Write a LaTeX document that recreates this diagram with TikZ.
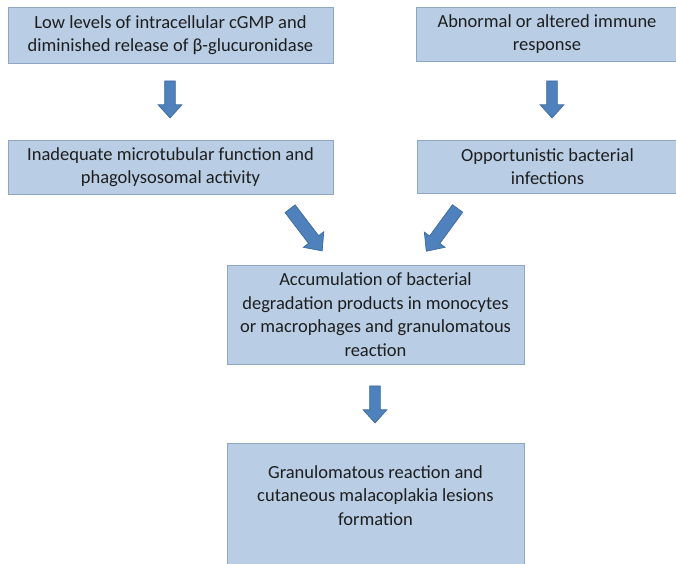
\documentclass[tikz,border=0pt]{standalone}
\usepackage{fontspec}
\setmainfont{Carlito}
\usetikzlibrary{shapes.arrows}

\definecolor{boxfill}{HTML}{B9CDE5}
\definecolor{boxline}{HTML}{8FA7C6}
\definecolor{arrfill}{HTML}{4F81BD}
\definecolor{arrline}{HTML}{3C6A9E}
\definecolor{txt}{HTML}{1E1E1E}

\tikzset{
	box/.style = {draw=boxline, fill=boxfill, line width=0.9pt, inner sep=0pt,
		align=center, text=txt, font=\fontsize{18.5}{23.5}\selectfont},
	blockarrow/.style = {single arrow, draw=arrline, fill=arrfill, line width=0.7pt,
		inner xsep=0pt, inner ysep=5pt, minimum height=37pt,
		single arrow head extend=6.5pt, single arrow tip angle=84},
}

\begin{document}
\begin{tikzpicture}[x=1pt, y=-1pt]

		\useasboundingbox (0,0) rectangle (676,563);

		% boxes
		\node[box, minimum width=325pt, minimum height=56pt] (low) at (170.5,35)
			{Low levels of intracellular cGMP and\\diminished release of β-glucuronidase};
		\node[box, minimum width=262pt, minimum height=54pt] (abn) at (547,34)
			{Abnormal or altered immune\\response};
		\node[box, minimum width=325pt, minimum height=54pt] (inad) at (170.5,167)
			{Inadequate microtubular function and\\phagolysosomal activity};
		\node[box, minimum width=261pt, minimum height=53pt] (opp) at (547.5,166.5)
			{Opportunistic bacterial\\infections};
		\node[box, minimum width=297pt, minimum height=99pt] (acc) at (375.5,314.5)
			{Accumulation of bacterial\\degradation products in monocytes\\or macrophages and granulomatous\\reaction};
		\node[box, minimum width=297pt, minimum height=128pt] (gran) at (375.5,507)
			{Granulomatous reaction and\\cutaneous malacoplakia lesions\\formation\\[0pt]};

		% block arrows
		\node[blockarrow, rotate=-90] (a1) at (170,96.5) {};
		\node[blockarrow, rotate=-90] (a2) at (552,96.5) {};
		\node[blockarrow, rotate=-52.7, minimum height=53pt, inner ysep=6pt] (a3) at (304,227) {};
		\node[blockarrow, rotate=-126.2, minimum height=53pt, inner ysep=6pt] (a4) at (444,227) {};
		\node[blockarrow, rotate=-90] (a5) at (375,401.5) {};

\end{tikzpicture}
\end{document}
